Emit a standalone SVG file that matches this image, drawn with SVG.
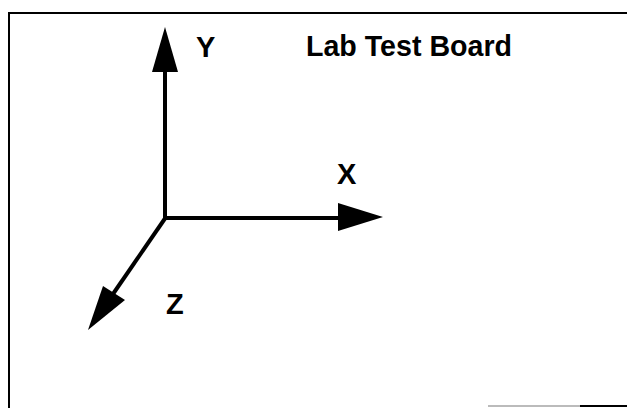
<svg xmlns="http://www.w3.org/2000/svg" width="627" height="408" viewBox="0 0 627 408">
  <style>
    .axis { stroke: #000; stroke-width: 4; fill: none; }
    .head { fill: #000; stroke: none; }
    .lbl { font-family: "Liberation Sans", Arial, sans-serif; font-weight: bold; font-size: 29px; fill: #000; }
    .title { font-size: 30px; }
    .frame { stroke: #000; stroke-width: 2; fill: none; }
  </style>
  <rect width="627" height="408" fill="#fff"/>
  <g id="frame">
    <path class="frame" d="M9,408 V13 H627"/>
    <line x1="488" y1="406" x2="580" y2="406" stroke="#bbb" stroke-width="2"/>
    <line x1="580" y1="406" x2="627" y2="406" stroke="#000" stroke-width="2"/>
  </g>
  <g id="title">
    <text class="lbl title" x="306" y="56" textLength="206" lengthAdjust="spacingAndGlyphs">Lab Test Board</text>
  </g>
  <g id="connectors">
    <g id="axis-y">
      <line class="axis" x1="165" y1="220" x2="165" y2="70"/>
      <polygon class="head" points="165,27 152,72 178,72"/>
    </g>
    <g id="axis-x">
      <line class="axis" x1="163" y1="218" x2="340" y2="218"/>
      <polygon class="head" points="383,217 338,203 338,231"/>
    </g>
    <g id="axis-z">
      <line class="axis" x1="166" y1="217" x2="113" y2="294"/>
      <polygon class="head" points="88,330 103,286 125,300"/>
    </g>
  </g>
  <g id="label-y"><text class="lbl" x="196" y="57">Y</text></g>
  <g id="label-x"><text class="lbl" x="337" y="184">X</text></g>
  <g id="label-z"><text class="lbl" x="166" y="314">Z</text></g>
</svg>
